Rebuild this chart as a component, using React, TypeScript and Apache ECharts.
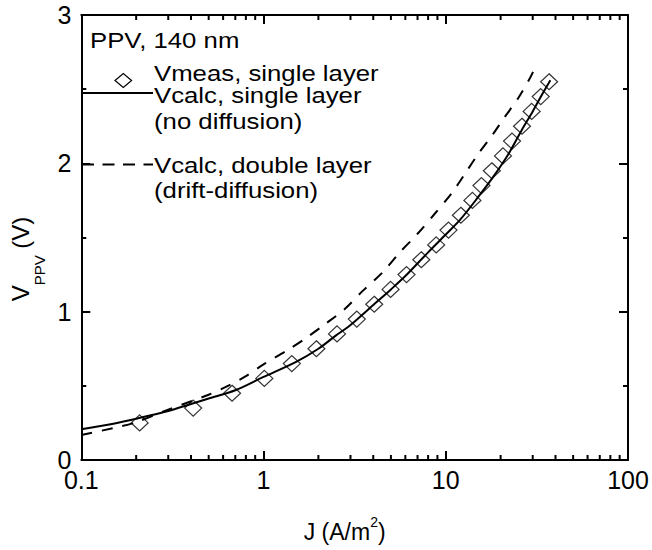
import React, { useEffect, useRef } from 'react';
import * as echarts from 'echarts';

// Measured data (single layer device)
const jMeas = [0.209, 0.411, 0.672, 1.01, 1.43, 1.95, 2.53, 3.25, 4.05, 4.98, 6.09, 7.34, 8.86, 10.35, 12.1, 14.0, 15.7, 17.9, 20.6, 23.1, 26.2, 29.6, 33.2, 36.9];
const vMeas = [0.25, 0.35, 0.45, 0.55, 0.65, 0.75, 0.85, 0.95, 1.05, 1.15, 1.25, 1.35, 1.45, 1.55, 1.65, 1.75, 1.85, 1.95, 2.05, 2.15, 2.25, 2.35, 2.45, 2.55];

// Calculated, single layer (no diffusion)
const jSingle = [0.1, 0.15, 0.2, 0.3, 0.4, 0.5, 0.7, 1, 1.5, 2, 2.5, 3, 4, 5, 6, 8, 10, 12, 15, 18, 22, 26, 30, 34, 37.5];
const vSingle = [0.207, 0.245, 0.278, 0.33, 0.378, 0.415, 0.47, 0.56, 0.66, 0.75, 0.84, 0.91, 1.045, 1.15, 1.24, 1.4, 1.52, 1.62, 1.77, 1.9, 2.06, 2.22, 2.35, 2.47, 2.56];

// Calculated, double layer (drift-diffusion)
const jDouble = [0.1, 0.15, 0.2, 0.3, 0.5, 0.65, 0.8, 1, 1.35, 1.7, 2.2, 2.8, 3.5, 4.5, 5.6, 7, 8.7, 10.8, 12.6, 15, 18, 21, 25, 29, 30.5];
const vDouble = [0.169, 0.215, 0.255, 0.34, 0.44, 0.505, 0.565, 0.645, 0.74, 0.82, 0.92, 1.02, 1.14, 1.265, 1.4, 1.525, 1.66, 1.8, 1.92, 2.06, 2.19, 2.31, 2.44, 2.575, 2.63];

const xTickLabels = ['0.1', '1', '10', '100'];
const xMinorTicks = [0.2, 0.3, 0.4, 0.5, 0.6, 0.7, 0.8, 0.9, 2, 3, 4, 5, 6, 7, 8, 9, 20, 30, 40, 50, 60, 70, 80, 90];
const yTickLabels = ['0', '1', '2', '3'];

const legendTitle = 'PPV, 140 nm';
const legendLabels = ['Vmeas, single layer', 'Vcalc, single layer', '(no diffusion)', 'Vcalc, double layer', '(drift-diffusion)'];

const FONT = '"Liberation Sans", Arial, Helvetica, sans-serif';
const Y_MIN = 0;
const Y_MAX = 3;

function pairs(xs: number[], ys: number[]) {
  return xs.map((x, i) => [x, ys[i]]);
}

function legendText(text: string, x: number, y: number) {
  return {
    type: 'text',
    x,
    y,
    scaleX: 1.12,
    style: {
      text,
      x: 0,
      y: 0,
      fill: '#000',
      fontSize: 23,
      fontFamily: FONT,
      textAlign: 'left',
      textVerticalAlign: 'middle',
      align: 'left',
      verticalAlign: 'middle',
    },
  };
}

export default function App() {
  const ref = useRef<HTMLDivElement>(null);

  useEffect(() => {
    if (!ref.current) return;
    const chart = echarts.init(ref.current, undefined, { renderer: 'svg' });

    const axisLineStyle = { color: '#000', width: 2 };
    const majorTick = { show: true, inside: true, length: 9, lineStyle: { color: '#000', width: 2 } };
    const yMinorTick = { show: true, splitNumber: 2, length: 5, lineStyle: { color: '#000', width: 2 } };
    const baseLog = { type: 'log', logBase: 10, min: 0.1, max: 100, splitLine: { show: false }, gridIndex: 0 };

    const option: any = {
      animation: false,
      backgroundColor: '#fff',
      grid: { left: 76, right: 24, top: 15, bottom: 90, containLabel: false },
      xAxis: [
        {
          ...baseLog,
          position: 'bottom',
          axisLine: { show: true, onZero: false, lineStyle: axisLineStyle },
          axisTick: majorTick,
          axisLabel: {
            show: true,
            margin: 10,
            fontSize: 25,
            lineHeight: 20,
            fontFamily: FONT,
            color: '#000',
            formatter: (v: number) => xTickLabels[Math.round(Math.log10(v)) + 1] ?? '',
          },
          name: '{a|J (A/m}{b|2}{a|)}',
          nameLocation: 'middle',
          nameGap: 55,
          nameTextStyle: {
            padding: [0, 20, 0, 0],
            rich: {
              a: { fontSize: 23, fontFamily: FONT, color: '#000', lineHeight: 34 },
              b: { fontSize: 14, fontFamily: FONT, color: '#000', lineHeight: 14, verticalAlign: 'top' },
            },
          },
        },
        {
          ...baseLog,
          position: 'top',
          axisLine: { show: true, onZero: false, lineStyle: axisLineStyle },
          axisTick: majorTick,
          axisLabel: { show: false },
        },
      ],
      yAxis: [
        {
          type: 'value',
          min: Y_MIN,
          max: Y_MAX,
          interval: 1,
          position: 'left',
          splitLine: { show: false },
          axisLine: { show: true, onZero: false, lineStyle: axisLineStyle },
          axisTick: majorTick,
          minorTick: yMinorTick,
          axisLabel: {
            show: true,
            margin: 10,
            fontSize: 25,
            lineHeight: 18,
            fontFamily: FONT,
            color: '#000',
            formatter: (v: number) => yTickLabels[Math.round(v)] ?? '',
          },
          name: '{v|V}{s|PPV}{v| (V)}',
          nameLocation: 'middle',
          nameGap: 8,
          nameTextStyle: {
            padding: [0, 43, 0, 0],
            rich: {
              v: { fontSize: 24, fontFamily: FONT, color: '#000', lineHeight: 30, verticalAlign: 'top' },
              s: { fontSize: 15, fontFamily: FONT, color: '#000', lineHeight: 62 },
            },
          },
        },
        {
          type: 'value',
          min: Y_MIN,
          max: Y_MAX,
          interval: 1,
          position: 'right',
          splitLine: { show: false },
          axisLine: { show: true, onZero: false, lineStyle: axisLineStyle },
          axisTick: majorTick,
          minorTick: yMinorTick,
          axisLabel: { show: false },
        },
      ],
      series: [
        {
          // minor ticks of the log x axis (bottom and top), placed through the axis scale
          type: 'custom',
          xAxisIndex: 0,
          yAxisIndex: 0,
          silent: true,
          clip: false,
          data: xMinorTicks.map((v) => [v, Y_MIN]),
          encode: { x: 0, y: 1 },
          renderItem: (_params: any, api: any) => {
            const v = api.value(0);
            const b = api.coord([v, Y_MIN]);
            const t = api.coord([v, Y_MAX]);
            return {
              type: 'group',
              children: [
                { type: 'line', shape: { x1: b[0], y1: b[1], x2: b[0], y2: b[1] - 5 }, style: { stroke: '#000', lineWidth: 2 } },
                { type: 'line', shape: { x1: t[0], y1: t[1], x2: t[0], y2: t[1] + 5 }, style: { stroke: '#000', lineWidth: 2 } },
              ],
            };
          },
          z: 1,
        },
        {
          type: 'line',
          name: legendLabels[1],
          xAxisIndex: 0,
          yAxisIndex: 0,
          data: pairs(jSingle, vSingle),
          symbol: 'none',
          showSymbol: false,
          smooth: 0.3,
          lineStyle: { color: '#000', width: 2 },
          z: 2,
        },
        {
          type: 'line',
          name: legendLabels[3],
          xAxisIndex: 0,
          yAxisIndex: 0,
          data: pairs(jDouble, vDouble),
          symbol: 'none',
          showSymbol: false,
          smooth: 0.3,
          lineStyle: { color: '#000', width: 2, type: [11, 10] },
          z: 2,
        },
        {
          type: 'scatter',
          name: legendLabels[0],
          xAxisIndex: 0,
          yAxisIndex: 0,
          data: pairs(jMeas, vMeas),
          symbol: 'diamond',
          symbolSize: [17, 16],
          itemStyle: { color: 'rgba(0,0,0,0)', borderColor: '#000', borderWidth: 1.2 },
          z: 3,
        },
      ],
      graphic: [
        legendText(legendTitle, 90, 40),
        {
          type: 'polygon',
          shape: { points: [[115, 80.5], [123.3, 73.5], [131.6, 80.5], [123.3, 87.5]] },
          style: { fill: 'none', stroke: '#000', lineWidth: 1.2 },
        },
        legendText(legendLabels[0], 154, 73),
        {
          type: 'line',
          shape: { x1: 82, y1: 93, x2: 153, y2: 93 },
          style: { stroke: '#000', lineWidth: 2 },
        },
        legendText(legendLabels[1], 154, 95),
        legendText(legendLabels[2], 154, 121),
        {
          type: 'line',
          shape: { x1: 82, y1: 164.5, x2: 153, y2: 164.5 },
          style: { stroke: '#000', lineWidth: 2, lineDash: [12, 8.5] },
        },
        legendText(legendLabels[3], 154, 165),
        legendText(legendLabels[4], 154, 190),
      ],
    };

    chart.setOption(option);
    return () => chart.dispose();
  }, []);

  return (
    <div
      ref={ref}
      style={{ position: 'fixed', left: 0, top: 0, width: 652, height: 550, background: '#fff' }}
    />
  );
}
